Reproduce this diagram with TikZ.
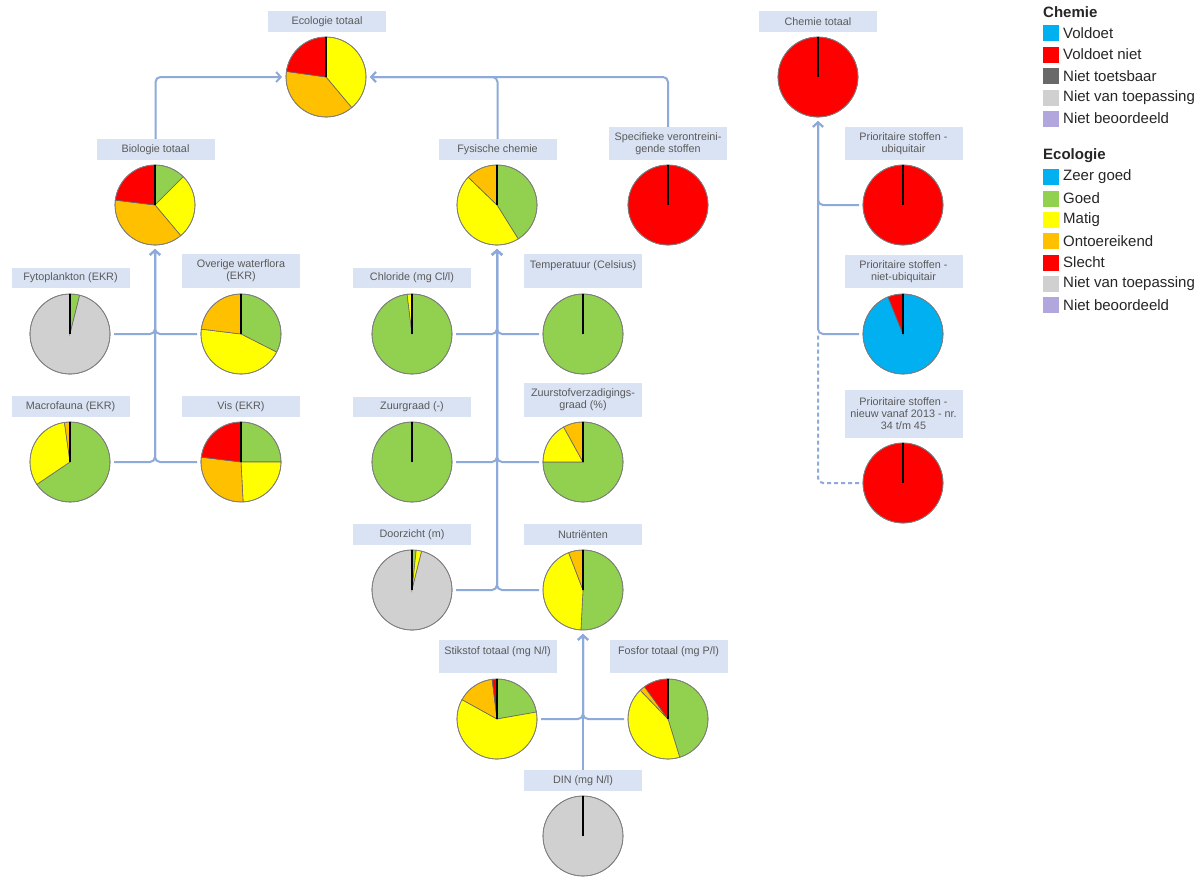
\documentclass[tikz,border=0pt]{standalone}
\usepackage{fontspec}
\setmainfont{Liberation Sans}
\usetikzlibrary{arrows.meta}
\definecolor{cblue}{RGB}{0,176,240}
\definecolor{cgreen}{RGB}{146,208,80}
\definecolor{cyel}{RGB}{255,255,0}
\definecolor{cora}{RGB}{255,192,0}
\definecolor{cred}{RGB}{255,0,0}
\definecolor{cgray}{RGB}{208,208,208}
\definecolor{cdgray}{RGB}{105,105,105}
\definecolor{clav}{RGB}{177,167,221}
\definecolor{lblfill}{RGB}{218,227,243}
\definecolor{lbltext}{RGB}{90,90,90}
\definecolor{cconn}{RGB}{142,170,219}
\tikzset{
 lbl/.style={fill=lblfill, text=lbltext, minimum width=118pt, inner sep=0pt, align=center, font=\fontsize{10.8}{12}\selectfont},
 piec/.style={circle, minimum size=80pt, inner sep=0pt, outer sep=4pt},
 cline/.style={draw=cconn, line width=2pt, rounded corners=5pt},
 arr/.style={cline, -{Straight Barb[length=4.5pt,width=10pt]}},
 legsq/.style={minimum size=16pt, inner sep=0pt},
 legtxt/.style={anchor=west, font=\fontsize{15}{17}\selectfont, text=black!85, inner sep=0pt},
 leghead/.style={anchor=west, font=\bfseries\fontsize{15}{17}\selectfont, text=black!85, inner sep=0pt},
}
\newcommand\drawpie[3]{%
  \node[piec] (#1) at (#2) {};
  \foreach \pa/\pb/\pc in {#3}{
    \filldraw[fill=\pc, draw=black!60, line width=0.6pt] (#1.center) -- ++({90-\pa}:40pt) arc[start angle={90-\pa}, end angle={90-\pb}, radius=40pt] -- cycle;
  }
  \draw[black!50, line width=0.7pt] (#1.center) circle[radius=40pt];
  \draw[black, line width=1.6pt] (#1.center) -- ++(0,40pt);
}
\begin{document}
\begin{tikzpicture}[x=1pt,y=-1pt]
\useasboundingbox[fill=white] (0,0) rectangle (1203,878);

% labels
\node[lbl, minimum height=21pt] (l-eco) at (327,21.5) {Ecologie totaal};
\node[lbl, minimum height=21pt] (l-chem) at (818,21.5) {Chemie totaal};
\node[lbl, minimum height=21pt] (l-bio) at (155.5,149.5) {Biologie totaal};
\node[lbl, minimum height=21pt] (l-fys) at (497.5,149.5) {Fysische chemie};
\node[lbl, minimum height=33pt] (l-spec) at (668,143.5) {Specifieke verontreini-\\gende stoffen};
\node[lbl, minimum height=33pt] (l-ubi) at (903.5,143.5) {Prioritaire stoffen -\\ubiquitair};
\node[lbl, minimum height=20pt] (l-fyto) at (70.5,278) {Fytoplankton (EKR)};
\node[lbl, minimum height=34pt] (l-over) at (241,271) {Overige waterflora\\(EKR)};
\node[lbl, minimum height=20pt] (l-chl) at (412,278) {Chloride (mg Cl/l)};
\node[lbl, minimum height=34pt] (l-temp) at (583,271) {Temperatuur (Celsius)\\~};
\node[lbl, minimum height=33pt] (l-nub) at (903.5,271.5) {Prioritaire stoffen -\\niet-ubiquitair};
\node[lbl, minimum height=21pt] (l-macro) at (70.5,406.5) {Macrofauna (EKR)};
\node[lbl, minimum height=21pt] (l-vis) at (241,406.5) {Vis (EKR)};
\node[lbl, minimum height=20pt] (l-zuur) at (412,407) {Zuurgraad (-)};
\node[lbl, minimum height=34pt] (l-zst) at (583,400) {Zuurstofverzadigings-\\graad (\%)};
\node[lbl, minimum height=48pt] (l-nieuw) at (903.5,414) {Prioritaire stoffen -\\nieuw vanaf 2013 - nr.\\34 t/m 45};
\node[lbl, minimum height=21pt] (l-door) at (412,534.5) {Doorzicht (m)};
\node[lbl, minimum height=21pt] (l-nut) at (583,534.5) {Nutriënten};
\node[lbl, minimum height=33pt] (l-stik) at (497.5,656.5) {Stikstof totaal (mg N/l)\\~};
\node[lbl, minimum height=33pt] (l-fos) at (668.5,656.5) {Fosfor totaal (mg P/l)\\~};
\node[lbl, minimum height=21pt] (l-din) at (583,780.5) {DIN (mg N/l)};

% pies
\drawpie{p-eco}{326,77}{0/140/cyel, 140/278/cora, 278/360/cred}
\drawpie{p-chem}{818,77}{0/360/cred}
\drawpie{p-bio}{155,205}{0/45/cgreen, 45/140/cyel, 140/277/cora, 277/360/cred}
\drawpie{p-fys}{497,205}{0/148/cgreen, 148/314/cyel, 314/360/cora}
\drawpie{p-spec}{668,205}{0/360/cred}
\drawpie{p-ubi}{903,205}{0/360/cred}
\drawpie{p-fyto}{70,334}{0/14/cgreen, 14/360/cgray}
\drawpie{p-over}{241,334}{0/117/cgreen, 117/277/cyel, 277/360/cora}
\drawpie{p-chl}{412,334}{0/353/cgreen, 353/360/cyel}
\drawpie{p-temp}{583,334}{0/360/cgreen}
\drawpie{p-nub}{903,334}{0/338/cblue, 338/360/cred}
\drawpie{p-macro}{70,462}{0/236/cgreen, 236/352/cyel, 352/360/cora}
\drawpie{p-vis}{241,462}{0/90/cgreen, 90/177/cyel, 177/277/cora, 277/360/cred}
\drawpie{p-zuur}{412,462}{0/360/cgreen}
\drawpie{p-zst}{583,462}{0/270/cgreen, 270/331/cyel, 331/360/cora}
\drawpie{p-nieuw}{903,483}{0/360/cred}
\drawpie{p-door}{412,590}{0/6/cgreen, 6/14/cyel, 14/360/cgray}
\drawpie{p-nut}{583,590}{0/183/cgreen, 183/339/cyel, 339/360/cora}
\drawpie{p-stik}{497,719}{0/80/cgreen, 80/299/cyel, 299/353/cora, 353/360/cred}
\drawpie{p-fos}{668,719}{0/163/cgreen, 163/316/cyel, 316/324/cora, 324/360/cred}
\drawpie{p-din}{583,836}{0/360/cgray}

% connectors
\draw[arr] (l-bio.north) |- (p-eco.west);
\draw[arr] (l-spec.north) |- (p-eco.east);
\draw[arr] (l-fys.north) |- (p-eco.east);
\draw[arr] (p-fyto.east) -| (p-bio.south);
\draw[arr] (p-over.west) -| (p-bio.south);
\draw[arr] (p-macro.east) -| (p-bio.south);
\draw[arr] (p-vis.west) -| (p-bio.south);
\draw[arr] (p-chl.east) -| (p-fys.south);
\draw[arr] (p-temp.west) -| (p-fys.south);
\draw[arr] (p-zuur.east) -| (p-fys.south);
\draw[arr] (p-zst.west) -| (p-fys.south);
\draw[arr] (p-door.east) -| (p-fys.south);
\draw[arr] (p-nut.west) -| (p-fys.south);
\draw[arr] (p-stik.east) -| (p-nut.south);
\draw[arr] (p-fos.west) -| (p-nut.south);
\draw[arr] (l-din.north) -- (p-nut.south);
\coordinate (jn) at (p-nub.west -| p-chem.south);
\draw[cline, dash pattern=on 4pt off 3pt] (p-nieuw.west) -| (jn);
\draw[arr] (p-ubi.west) -| (p-chem.south);
\draw[arr] (p-nub.west) -| (p-chem.south);

% legend
\node[leghead] (lh-chem) at (1043,12) {Chemie};
\node[legsq, fill=cblue] (lq1) at (1051,33) {};
\node[legtxt] (lt1) at (1063,33) {Voldoet};
\node[legsq, fill=cred] (lq2) at (1051,54.5) {};
\node[legtxt] (lt2) at (1063,54.5) {Voldoet niet};
\node[legsq, fill=cdgray] (lq3) at (1051,76) {};
\node[legtxt] (lt3) at (1063,76) {Niet toetsbaar};
\node[legsq, fill=cgray] (lq4) at (1051,97.5) {};
\node[legtxt] (lt4) at (1063,97.5) {Niet van toepassing};
\node[legsq, fill=clav] (lq5) at (1051,118.5) {};
\node[legtxt] (lt5) at (1063,118.5) {Niet beoordeeld};
\node[leghead] (lh-eco) at (1043,156) {Ecologie};
\node[legsq, fill=cblue] (lq6) at (1051,177) {};
\node[legtxt] (lt6) at (1063,177) {Zeer goed};
\node[legsq, fill=cgreen] (lq7) at (1051,198.5) {};
\node[legtxt] (lt7) at (1063,198.5) {Goed};
\node[legsq, fill=cyel] (lq8) at (1051,220) {};
\node[legtxt] (lt8) at (1063,220) {Matig};
\node[legsq, fill=cora] (lq9) at (1051,241) {};
\node[legtxt] (lt9) at (1063,241) {Ontoereikend};
\node[legsq, fill=cred] (lq10) at (1051,262.5) {};
\node[legtxt] (lt10) at (1063,262.5) {Slecht};
\node[legsq, fill=cgray] (lq11) at (1051,284) {};
\node[legtxt] (lt11) at (1063,284) {Niet van toepassing};
\node[legsq, fill=clav] (lq12) at (1051,305) {};
\node[legtxt] (lt12) at (1063,305) {Niet beoordeeld};
\end{tikzpicture}
\end{document}
